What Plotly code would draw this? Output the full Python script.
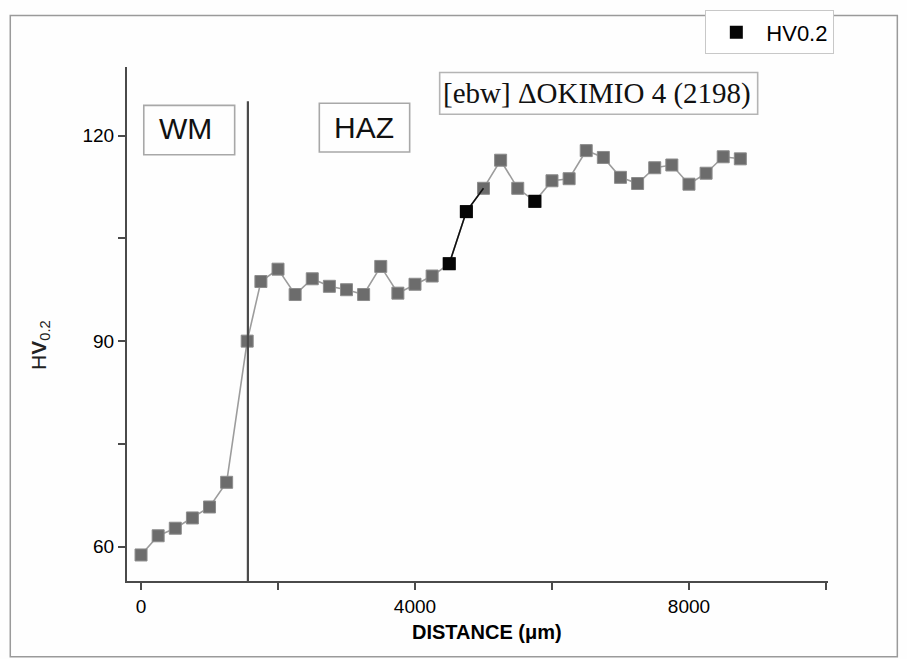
import plotly.graph_objects as go

# Microhardness traverse across the weld: distance (µm) vs HV0.2
distance = [0, 250, 500, 750, 1000, 1250, 1550, 1750, 2000, 2250, 2500, 2750,
            3000, 3250, 3500, 3750, 4000, 4250, 4500, 4750, 5000, 5250, 5500,
            5750, 6000, 6250, 6500, 6750, 7000, 7250, 7500, 7750, 8000, 8250,
            8500, 8750]
hardness = [58.8, 61.6, 62.7, 64.2, 65.8, 69.4, 90.0, 98.7, 100.5, 96.8, 99.1,
            98.0, 97.5, 96.8, 100.9, 97.0, 98.3, 99.5, 101.3, 108.9, 112.3,
            116.4, 112.3, 110.4, 113.4, 113.7, 117.8, 116.8, 113.9, 113.0,
            115.3, 115.7, 112.9, 114.5, 116.9, 116.6]
# points printed solid black
black_points = [4500, 4750, 5750]
# stretch of the curve drawn in black
black_segment = [4500, 4750, 5000]

fusion_line = 1560  # WM / HAZ boundary

x_ticks = [0, 2000, 4000, 6000, 8000, 10000]
x_labels = ["0", "", "4000", "", "8000", ""]
y_ticks = [60, 75, 90, 105, 120]
y_labels = ["60", "", "90", "", "120"]

SANS = "Liberation Sans, Arial, sans-serif"
SERIF = "Liberation Serif, Times New Roman, serif"
AXIS = "#4a4a4a"

fig = go.Figure()

fig.add_trace(go.Scatter(
    x=distance, y=hardness, mode="lines+markers", showlegend=False,
    line=dict(color="#9c9c9c", width=1.6),
    marker=dict(symbol="square", size=12, color="#6c6c6c",
                line=dict(color="#8c8c8c", width=1)),
))

seg_x = [d for d in distance if d in black_segment]
seg_y = [h for d, h in zip(distance, hardness) if d in black_segment]
fig.add_trace(go.Scatter(
    x=seg_x, y=seg_y, mode="lines", showlegend=False,
    line=dict(color="#111111", width=1.6),
))

bx = [d for d in distance if d in black_points]
by = [h for d, h in zip(distance, hardness) if d in black_points]
fig.add_trace(go.Scatter(
    x=bx, y=by, mode="markers", name="HV0.2",
    marker=dict(symbol="square", size=13, color="#050505"),
))

shapes = [
    # fusion line
    dict(type="line", xref="x", yref="y", x0=fusion_line, x1=fusion_line,
         y0=55, y1=125, line=dict(color=AXIS, width=2.2)),
    # label boxes
    dict(type="rect", xref="x", yref="y", x0=40, x1=1367, y0=117.2, y1=124.4,
         line=dict(color="#a8a8a8", width=1.6)),
    dict(type="rect", xref="x", yref="y", x0=2603, x1=3922, y0=117.6, y1=124.7,
         line=dict(color="#a8a8a8", width=1.6)),
    dict(type="rect", xref="x", yref="y", x0=4360, x1=9003, y0=123.1, y1=129.2,
         line=dict(color="#b4b4b4", width=1.6)),
    # outer frame
    dict(type="rect", xref="paper", yref="paper", x0=-0.1665, x1=1.0989,
         y0=-0.1476, y1=1.10, line=dict(color="#9a9a9a", width=1.5)),
]

annotations = [
    dict(x=650, y=121.0, xref="x", yref="y", text="WM", showarrow=False,
         font=dict(family=SANS, size=30, color="#111111")),
    dict(x=3262, y=121.2, xref="x", yref="y", text="HAZ", showarrow=False,
         font=dict(family=SANS, size=30, color="#111111")),
    dict(x=6650, y=126.2, xref="x", yref="y", text="[ebw] ΔOKIMIO 4 (2198)",
         showarrow=False, font=dict(family=SERIF, size=29, color="#111111")),
    dict(x=0.514, y=-0.1, xref="paper", yref="paper", xanchor="center",
         yanchor="middle", text="<b>DISTANCE (μm)</b>", showarrow=False,
         font=dict(family=SANS, size=20, color="#000000")),
    dict(x=-0.125, y=0.46, xref="paper", yref="paper", xanchor="center",
         yanchor="middle", text="H<b>V</b><sub>0.2</sub>", textangle=-90,
         showarrow=False, font=dict(family=SANS, size=21, color="#222222")),
]

fig.update_layout(
    width=907, height=659,
    margin=dict(l=127, r=79, t=66, b=78),
    paper_bgcolor="#fefefe", plot_bgcolor="#fefefe",
    shapes=shapes, annotations=annotations,
    legend=dict(x=0.825, y=1.108, xanchor="left", yanchor="top",
                bgcolor="#ffffff", bordercolor="#c8c8c8", borderwidth=1,
                font=dict(family=SANS, size=22, color="#000000"),
                itemwidth=50, tracegroupgap=0),
    xaxis=dict(range=[-205, 10030], showgrid=False, zeroline=False,
               showline=True, linecolor=AXIS, linewidth=2.2,
               tickmode="array", tickvals=x_ticks, ticktext=x_labels,
               ticks="outside", ticklen=7, tickwidth=1.5, tickcolor=AXIS,
               tickfont=dict(family=SANS, size=19, color="#000000")),
    yaxis=dict(range=[55, 130], showgrid=False, zeroline=False,
               showline=True, linecolor=AXIS, linewidth=2.2,
               tickmode="array", tickvals=y_ticks, ticktext=y_labels,
               ticks="outside", ticklen=7, tickwidth=1.5, tickcolor=AXIS,
               tickfont=dict(family=SANS, size=19, color="#000000")),
)

fig.write_html("out.html")
